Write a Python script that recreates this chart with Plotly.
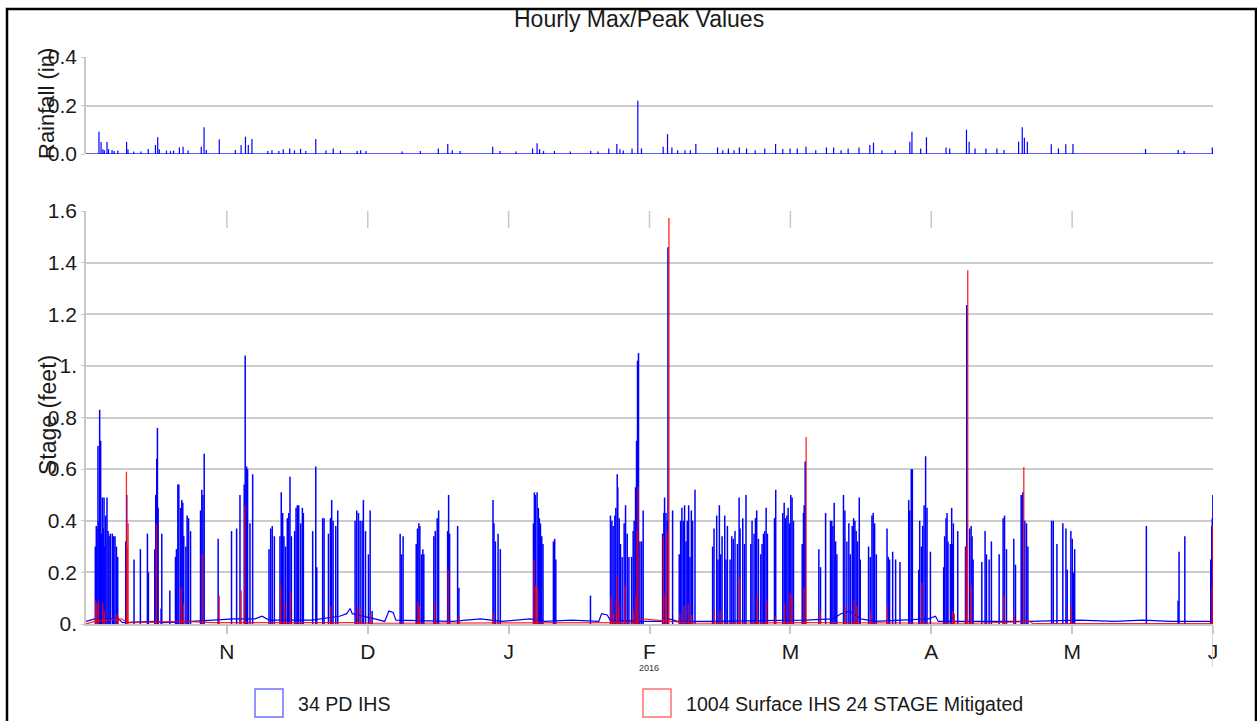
import plotly.graph_objects as go

W, H = 1257, 721

# ---------------- data (x = months since 1 Oct 2015) ----------------
month_pos = [1, 2, 3, 4, 5, 6, 7, 8]
month_labels = ["N", "D", "J", "F", "M", "A", "M", "J"]

rain_ticks = [0.0, 0.2, 0.4]
rain_ticktext = ["0.0", "0.2", "0.4"]
stage_ticks = [0.0, 0.2, 0.4, 0.6, 0.8, 1.0, 1.2, 1.4, 1.6]
stage_ticktext = ["0.", "0.2", "0.4", "0.6", "0.8", "1.", "1.2", "1.4", "1.6"]

# Hourly rainfall (in) peaks
rain_t = [0.0, 0.092, 0.107, 0.12, 0.13, 0.149, 0.16, 0.185, 0.2, 0.226, 0.288, 0.298, 0.339, 0.39, 0.442,
          0.493, 0.509, 0.52, 0.571, 0.6, 0.622, 0.663, 0.689, 0.725, 0.818, 0.838, 0.854, 0.946,
          1.06, 1.101, 1.132, 1.152, 1.178, 1.291, 1.32, 1.369, 1.40, 1.446, 1.48, 1.523, 1.56, 1.631,
          1.703, 1.755, 1.806, 1.925, 1.95, 1.987, 2.244, 2.373, 2.501, 2.568, 2.6, 2.656, 2.887, 2.939,
          3.052, 3.17, 3.202, 3.22, 3.248, 3.325, 3.438, 3.583, 3.634, 3.711, 3.768, 3.79, 3.814, 3.876,
          3.917, 3.943, 4.097, 4.128, 4.159, 4.2, 4.252, 4.29, 4.329, 4.483, 4.52, 4.56, 4.6, 4.638,
          4.689, 4.75, 4.818, 4.895, 4.946, 4.998, 5.049, 5.111, 5.18, 5.256, 5.307, 5.36, 5.41, 5.487,
          5.564, 5.59, 5.65, 5.745, 5.848, 5.863, 5.925, 5.966, 6.105, 6.131, 6.25, 6.269, 6.311, 6.388,
          6.466, 6.517, 6.62, 6.646, 6.661, 6.682, 6.852, 6.903, 6.955, 7.006, 7.521, 7.753, 7.795, 7.995, 8.0]
rain_v = [0.0, 0.092, 0.05, 0.02, 0.015, 0.05, 0.02, 0.016, 0.012, 0.014, 0.05, 0.02, 0.01, 0.01, 0.021,
          0.037, 0.069, 0.02, 0.014, 0.012, 0.014, 0.027, 0.03, 0.014, 0.03, 0.11, 0.016, 0.06,
          0.016, 0.037, 0.071, 0.037, 0.062, 0.012, 0.015, 0.012, 0.02, 0.023, 0.015, 0.021, 0.012, 0.062,
          0.014, 0.023, 0.014, 0.012, 0.015, 0.012, 0.01, 0.012, 0.023, 0.041, 0.015, 0.012, 0.03, 0.012,
          0.01, 0.023, 0.044, 0.02, 0.012, 0.012, 0.01, 0.012, 0.01, 0.023, 0.041, 0.02, 0.014, 0.023,
          0.22, 0.023, 0.03, 0.082, 0.027, 0.015, 0.015, 0.015, 0.041, 0.027, 0.015, 0.023, 0.015, 0.027,
          0.023, 0.015, 0.023, 0.041, 0.021, 0.023, 0.023, 0.03, 0.015, 0.027, 0.027, 0.015, 0.023, 0.027,
          0.037, 0.047, 0.015, 0.015, 0.051, 0.092, 0.023, 0.069, 0.027, 0.023, 0.10, 0.051, 0.023, 0.023,
          0.023, 0.016, 0.051, 0.11, 0.067, 0.051, 0.04, 0.023, 0.04, 0.041, 0.021, 0.016, 0.012, 0.027, 0.0]

# 34 PD IHS stage (feet): peak values
pd_t = [0.066, 0.073, 0.078, 0.085, 0.091, 0.097, 0.104, 0.110, 0.116, 0.122, 0.128, 0.134, 0.140, 0.149,
        0.157, 0.164, 0.173, 0.187, 0.197, 0.206, 0.216, 0.225, 0.282, 0.289, 0.341, 0.386, 0.436, 0.443,
        0.488, 0.495, 0.502, 0.507, 0.512, 0.533, 0.538, 0.595, 0.635, 0.642, 0.652, 0.659, 0.671, 0.680,
        0.687, 0.694, 0.709, 0.718, 0.728, 0.742, 0.813, 0.822, 0.830, 0.839, 0.938, 1.033, 1.069, 1.093,
        1.123, 1.130, 1.140, 1.147, 1.164, 1.183, 1.299, 1.311, 1.322, 1.337, 1.377, 1.386, 1.396, 1.405,
        1.417, 1.429, 1.439, 1.448, 1.458, 1.481, 1.491, 1.500, 1.510, 1.524, 1.536, 1.543, 1.609, 1.631,
        1.638, 1.680, 1.690, 1.721, 1.735, 1.744, 1.754, 1.773, 1.787, 1.910, 1.922, 1.934, 1.946, 1.960,
        1.969, 1.984, 2.005, 2.017, 2.031, 2.230, 2.240, 2.251, 2.344, 2.353, 2.363, 2.370, 2.382, 2.391,
        2.398, 2.469, 2.479, 2.493, 2.503, 2.567, 2.574, 2.581, 2.638, 2.647, 2.889, 2.896, 2.906, 2.925,
        2.941, 3.176, 3.183, 3.190, 3.202, 3.211, 3.218, 3.226, 3.235, 3.244, 3.318, 3.327, 3.335, 3.581,
        3.723, 3.733, 3.742, 3.754, 3.761, 3.771, 3.775, 3.785, 3.794, 3.806, 3.820, 3.830, 3.842, 3.854,
        3.873, 3.884, 3.891, 3.901, 3.908, 3.915, 3.922, 3.932, 3.944, 3.955, 4.093, 4.102, 4.107, 4.117,
        4.126, 4.131, 4.164, 4.211, 4.221, 4.230, 4.240, 4.249, 4.259, 4.268, 4.278, 4.287, 4.297, 4.306,
        4.323, 4.448, 4.458, 4.477, 4.486, 4.496, 4.505, 4.515, 4.534, 4.543, 4.553, 4.572, 4.584, 4.595,
        4.607, 4.624, 4.636, 4.643, 4.662, 4.674, 4.685, 4.719, 4.728, 4.742, 4.752, 4.761, 4.773, 4.790,
        4.799, 4.809, 4.818, 4.828, 4.837, 4.887, 4.896, 4.946, 4.956, 4.965, 4.975, 4.984, 4.994, 5.003,
        5.012, 5.022, 5.084, 5.093, 5.098, 5.105, 5.202, 5.214, 5.250, 5.285, 5.294, 5.302, 5.311, 5.321,
        5.330, 5.377, 5.387, 5.401, 5.415, 5.425, 5.439, 5.449, 5.458, 5.467, 5.477, 5.489, 5.496, 5.555,
        5.567, 5.579, 5.588, 5.598, 5.610, 5.686, 5.695, 5.704, 5.726, 5.747, 5.778, 5.840, 5.847, 5.858,
        5.866, 5.911, 5.918, 5.930, 5.939, 5.949, 5.960, 5.970, 5.994, 6.088, 6.095, 6.105, 6.112, 6.119,
        6.136, 6.145, 6.150, 6.157, 6.188, 6.243, 6.252, 6.273, 6.283, 6.290, 6.297, 6.359, 6.382, 6.392,
        6.411, 6.427, 6.482, 6.510, 6.520, 6.534, 6.586, 6.598, 6.638, 6.645, 6.650, 6.664, 6.676, 6.686,
        6.854, 6.866, 6.892, 6.934, 6.956, 6.965, 6.991, 7.001, 7.008, 7.018, 7.527, 7.752, 7.759, 7.800,
        7.984, 7.991, 7.995, 7.999]
pd_v = [0.30, 0.38, 0.37, 0.69, 0.40, 0.83, 0.71, 0.35, 0.49, 0.37, 0.49, 0.30, 0.42, 0.49,
        0.36, 0.34, 0.35, 0.35, 0.34, 0.34, 0.30, 0.26, 0.32, 0.50, 0.25, 0.29, 0.35, 0.20,
        0.29, 0.50, 0.64, 0.76, 0.45, 0.06, 0.35, 0.13, 0.26, 0.29, 0.54, 0.54, 0.45, 0.48,
        0.47, 0.34, 0.30, 0.42, 0.41, 0.36, 0.44, 0.52, 0.50, 0.66, 0.33, 0.36, 0.37, 0.50,
        0.54, 1.04, 0.61, 0.60, 0.39, 0.58, 0.29, 0.37, 0.38, 0.34, 0.34, 0.51, 0.43, 0.34,
        0.30, 0.41, 0.43, 0.57, 0.34, 0.36, 0.45, 0.46, 0.46, 0.39, 0.45, 0.43, 0.36, 0.61,
        0.22, 0.41, 0.41, 0.35, 0.41, 0.48, 0.40, 0.38, 0.44, 0.40, 0.44, 0.43, 0.40, 0.40,
        0.48, 0.36, 0.27, 0.44, 0.05, 0.35, 0.27, 0.34, 0.31, 0.37, 0.39, 0.38, 0.27, 0.29,
        0.27, 0.34, 0.36, 0.41, 0.44, 0.36, 0.50, 0.35, 0.38, 0.14, 0.48, 0.39, 0.32, 0.35,
        0.29, 0.39, 0.51, 0.50, 0.51, 0.45, 0.41, 0.39, 0.34, 0.31, 0.32, 0.33, 0.25, 0.11,
        0.42, 0.40, 0.38, 0.42, 0.45, 0.58, 0.53, 0.41, 0.31, 0.26, 0.39, 0.46, 0.35, 0.26,
        0.26, 0.36, 0.40, 0.53, 0.71, 1.02, 1.05, 0.32, 0.32, 0.44, 0.35, 0.43, 0.49, 0.43,
        0.40, 1.46, 0.44, 0.27, 0.40, 0.45, 0.40, 0.46, 0.32, 0.40, 0.46, 0.26, 0.44, 0.40,
        0.52, 0.30, 0.37, 0.42, 0.25, 0.46, 0.27, 0.34, 0.42, 0.25, 0.38, 0.25, 0.34, 0.33,
        0.36, 0.31, 0.49, 0.37, 0.41, 0.31, 0.50, 0.31, 0.40, 0.35, 0.41, 0.44, 0.33, 0.27,
        0.31, 0.35, 0.36, 0.45, 0.35, 0.41, 0.52, 0.43, 0.47, 0.41, 0.42, 0.45, 0.39, 0.50,
        0.49, 0.40, 0.31, 0.43, 0.46, 0.63, 0.29, 0.22, 0.43, 0.40, 0.40, 0.38, 0.47, 0.32,
        0.27, 0.50, 0.44, 0.32, 0.39, 0.27, 0.38, 0.41, 0.40, 0.36, 0.32, 0.49, 0.25, 0.30,
        0.26, 0.42, 0.43, 0.39, 0.27, 0.37, 0.26, 0.25, 0.28, 0.25, 0.24, 0.48, 0.44, 0.60,
        0.60, 0.21, 0.40, 0.30, 0.38, 0.46, 0.65, 0.45, 0.28, 0.22, 0.34, 0.41, 0.43, 0.32,
        0.31, 0.45, 0.31, 0.39, 0.36, 0.30, 1.236, 0.37, 0.38, 0.34, 0.25, 0.24, 0.36, 0.27,
        0.25, 0.32, 0.27, 0.41, 0.42, 0.29, 0.33, 0.23, 0.50, 0.50, 0.51, 0.40, 0.39, 0.30,
        0.40, 0.40, 0.31, 0.39, 0.37, 0.21, 0.36, 0.33, 0.20, 0.29, 0.38, 0.09, 0.28, 0.34,
        0.25, 0.38, 0.41, 0.50]

# 34 PD IHS stage between events
pd_base_t = [0.0, 0.06, 0.23, 0.26, 0.5, 0.55, 0.75, 0.95, 1.05, 1.2, 1.25, 1.3, 1.6, 1.8, 1.85, 1.875,
             1.89, 2.05, 2.12, 2.15, 2.18, 2.2, 2.6, 2.7, 2.8, 2.95, 3.15, 3.26, 3.45, 3.64, 3.66, 3.7,
             3.72, 3.96, 4.08, 4.14, 4.2, 4.4, 5.1, 5.3, 5.36, 5.42, 5.5, 5.6, 5.98, 6.03, 6.05, 6.7,
             7.05, 7.3, 7.5, 7.7, 8.0]
pd_base_v = [0.01, 0.02, 0.02, 0.005, 0.01, 0.005, 0.01, 0.015, 0.02, 0.02, 0.03, 0.015, 0.015, 0.03,
             0.04, 0.06, 0.04, 0.02, 0.01, 0.05, 0.045, 0.015, 0.01, 0.015, 0.02, 0.01, 0.02, 0.01, 0.015,
             0.01, 0.04, 0.035, 0.015, 0.01, 0.01, 0.02, 0.01, 0.01, 0.015, 0.02, 0.04, 0.05, 0.02, 0.01,
             0.02, 0.03, 0.01, 0.01, 0.015, 0.01, 0.015, 0.01, 0.01]

# 1004 Surface IHS 24 STAGE Mitigated (feet): peak values
mit_t = [0.069, 0.076, 0.088, 0.119, 0.131, 0.219, 0.228, 0.287, 0.292, 0.299, 0.498, 0.500, 0.675,
         0.692, 0.825, 0.946, 1.102, 1.127, 1.382, 1.410, 1.451, 1.738, 1.927, 1.948, 2.020, 2.356,
         2.366, 2.475, 2.571, 2.647, 2.892, 3.180, 3.193, 3.205, 3.726, 3.745, 3.764, 3.768, 3.782,
         3.825, 3.887, 3.904, 3.911, 3.918, 4.098, 4.112, 4.121, 4.138, 4.216, 4.245, 4.275, 4.299,
         4.460, 4.501, 4.640, 4.764, 4.831, 4.894, 4.959, 4.997, 5.010, 5.096, 5.112, 5.212, 5.389,
         5.453, 5.472, 5.569, 5.690, 5.934, 6.152, 6.164, 6.247, 6.259, 6.285, 6.517, 6.588, 6.657,
         6.993, 7.993, 7.997]
mit_v = [0.09, 0.08, 0.09, 0.08, 0.05, 0.04, 0.03, 0.59, 0.30, 0.39, 0.29, 0.39, 0.14,
         0.08, 0.27, 0.11, 0.13, 0.46, 0.15, 0.08, 0.125, 0.07, 0.07, 0.06, 0.04, 0.086,
         0.07, 0.086, 0.21, 0.03, 0.04, 0.25, 0.15, 0.14, 0.105, 0.04, 0.09, 0.19, 0.08,
         0.15, 0.05, 0.11, 0.36, 0.53, 0.34, 0.11, 0.36, 1.573, 0.04, 0.07, 0.08, 0.035,
         0.05, 0.05, 0.18, 0.11, 0.09, 0.03, 0.08, 0.12, 0.11, 0.14, 0.724, 0.05, 0.07,
         0.09, 0.07, 0.05, 0.07, 0.16, 0.05, 0.04, 0.30, 1.37, 0.15, 0.11, 0.04, 0.608,
         0.07, 0.14, 0.38]

mit_base_t = [0.0, 0.06, 0.25, 0.3, 0.7, 0.9, 1.9, 2.05, 3.9, 3.95, 4.15, 4.35, 5.15, 6.3, 6.7, 6.72, 8.0]
mit_base_v = [0.0, 0.01, 0.02, 0.005, 0.01, 0.005, 0.005, 0.003, 0.005, 0.02, 0.01, 0.003, 0.005,
              0.003, 0.01, 0.002, 0.002]

BLUE = "#0000ff"
RED = "#ff0000"
GRID = "#cccccc"
AXIS = "#c8c8c8"
FONT = "Liberation Sans, Arial, sans-serif"
TICKFONT = dict(family=FONT, size=21, color="#1a1a1a")
LEGFONT = dict(family=FONT, size=19.6, color="#1a1a1a")


def stems(t, v):
    xs, ys = [], []
    for ti, vi in zip(t, v):
        xs += [ti, ti, None]
        ys += [0.0, vi, None]
    return xs, ys


def px(x):
    return x / W


def py(y):
    return 1 - y / H


fig = go.Figure()

# rainfall
rx, ry = stems(rain_t, rain_v)
fig.add_trace(go.Scatter(x=[min(rain_t), max(rain_t)], y=[0.0, 0.0], mode="lines",
                         line=dict(color="#6060ff", width=2), xaxis="x", yaxis="y",
                         showlegend=False, hoverinfo="skip"))
fig.add_trace(go.Scatter(x=rx, y=ry, mode="lines", line=dict(color=BLUE, width=1.2),
                         xaxis="x", yaxis="y", name="Rainfall", showlegend=False))

# 34 PD IHS
bx, by = stems(pd_t, pd_v)
fig.add_trace(go.Scatter(x=pd_base_t, y=pd_base_v, mode="lines", line=dict(color=BLUE, width=1.2),
                         xaxis="x2", yaxis="y2", name="34 PD IHS", showlegend=False))
fig.add_trace(go.Scatter(x=bx, y=by, mode="lines", line=dict(color=BLUE, width=1.5),
                         xaxis="x2", yaxis="y2", name="34 PD IHS", showlegend=False))

# Mitigated
mx, my = stems(mit_t, mit_v)
fig.add_trace(go.Scatter(x=mit_base_t, y=mit_base_v, mode="lines", line=dict(color=RED, width=1.2),
                         xaxis="x2", yaxis="y2", name="1004 Surface IHS 24 STAGE Mitigated",
                         showlegend=False, opacity=0.85))
fig.add_trace(go.Scatter(x=mx, y=my, mode="lines", line=dict(color=RED, width=1.3),
                         xaxis="x2", yaxis="y2", name="1004 Surface IHS 24 STAGE Mitigated",
                         showlegend=False, opacity=0.85))

xdom = [px(86), px(1213)]
top_dom = [py(154), py(57)]
bot_dom = [py(624), py(211)]

common_y = dict(zeroline=False, showline=True, linecolor=AXIS, linewidth=1.5, ticks="outside",
                ticklen=3, tickcolor=AXIS, tickfont=TICKFONT, automargin=False, fixedrange=True)

fig.update_layout(
    template="none",
    width=W, height=H, autosize=False,
    margin=dict(l=0, r=0, t=0, b=0, pad=0),
    paper_bgcolor="white", plot_bgcolor="white",
    showlegend=False,
    xaxis=dict(domain=xdom, range=[0, 8], anchor="y", visible=False, automargin=False, fixedrange=True),
    yaxis=dict(domain=top_dom, range=[0, 0.4], anchor="x", tickvals=rain_ticks, ticktext=rain_ticktext,
               showgrid=True, gridcolor=GRID, gridwidth=1.5, **common_y),
    yaxis3=dict(overlaying="y", side="right", anchor="x", range=[0, 0.4], tickvals=rain_ticks,
                ticktext=rain_ticktext, showgrid=False, **common_y),
    xaxis2=dict(domain=xdom, range=[0, 8], anchor="y2", tickvals=month_pos, ticktext=month_labels,
                showgrid=False, zeroline=False, showline=True, linecolor=AXIS, linewidth=1.5,
                ticks="outside", ticklen=8, tickcolor=AXIS, tickwidth=1.5, tickfont=TICKFONT,
                automargin=False, fixedrange=True),
    yaxis2=dict(domain=bot_dom, range=[0, 1.6], anchor="x2", tickvals=stage_ticks, ticktext=stage_ticktext,
                showgrid=True, gridcolor=GRID, gridwidth=1.5, **common_y),
    yaxis4=dict(overlaying="y2", side="right", anchor="x2", range=[0, 1.6], tickvals=stage_ticks,
                ticktext=stage_ticktext, showgrid=False, **common_y),
)

shapes = []
# outer black frame
shapes.append(dict(type="rect", xref="paper", yref="paper", x0=px(7), x1=px(1256), y0=py(740), y1=py(9),
                   line=dict(color="black", width=2.5), fillcolor="rgba(0,0,0,0)", layer="above"))
# inside top tick marks of the stage panel
for m in month_pos[:-1]:
    shapes.append(dict(type="line", xref="x2", yref="paper", x0=m, x1=m, y0=py(228), y1=py(211),
                       line=dict(color=AXIS, width=1.5)))
# long tick at the last month
shapes.append(dict(type="line", xref="x2", yref="paper", x0=month_pos[-1], x1=month_pos[-1],
                   y0=py(667), y1=py(624), line=dict(color=AXIS, width=1.5)))
# legend boxes
shapes.append(dict(type="rect", xref="paper", yref="paper", x0=px(255), x1=px(283), y0=py(717), y1=py(689),
                   line=dict(color="#7070ff", width=1.5), fillcolor="rgba(0,0,0,0)"))
shapes.append(dict(type="rect", xref="paper", yref="paper", x0=px(643), x1=px(671), y0=py(717), y1=py(689),
                   line=dict(color="#ff7070", width=1.5), fillcolor="rgba(0,0,0,0)"))
fig.update_layout(shapes=shapes)

ann = [
    dict(text="Hourly Max/Peak Values", x=px(639), y=py(19), xref="paper", yref="paper",
         showarrow=False, xanchor="center", yanchor="middle",
         font=dict(family=FONT, size=23, color="#1a1a1a")),
    dict(text="Rainfall (in)", x=px(47), y=py(104), xref="paper", yref="paper", textangle=-90,
         showarrow=False, xanchor="center", yanchor="middle",
         font=dict(family=FONT, size=22, color="#1a1a1a")),
    dict(text="Stage (feet)", x=px(48), y=py(415), xref="paper", yref="paper", textangle=-90,
         showarrow=False, xanchor="center", yanchor="middle",
         font=dict(family=FONT, size=23, color="#1a1a1a")),
    dict(text="2016", x=px(649), y=py(668), xref="paper", yref="paper", showarrow=False,
         xanchor="center", yanchor="middle", font=dict(family=FONT, size=9, color="#333")),
    dict(text="34 PD IHS", x=px(296), y=py(704), xref="paper", yref="paper", showarrow=False,
         xanchor="left", yanchor="middle", font=LEGFONT),
    dict(text="1004 Surface IHS 24 STAGE Mitigated", x=px(684), y=py(704), xref="paper", yref="paper",
         showarrow=False, xanchor="left", yanchor="middle", font=LEGFONT),
]
fig.update_layout(annotations=ann)

fig.write_html("out.html", config={"responsive": False, "displayModeBar": False},
               post_script="document.body.style.margin='0px';document.body.style.overflow='hidden';")
